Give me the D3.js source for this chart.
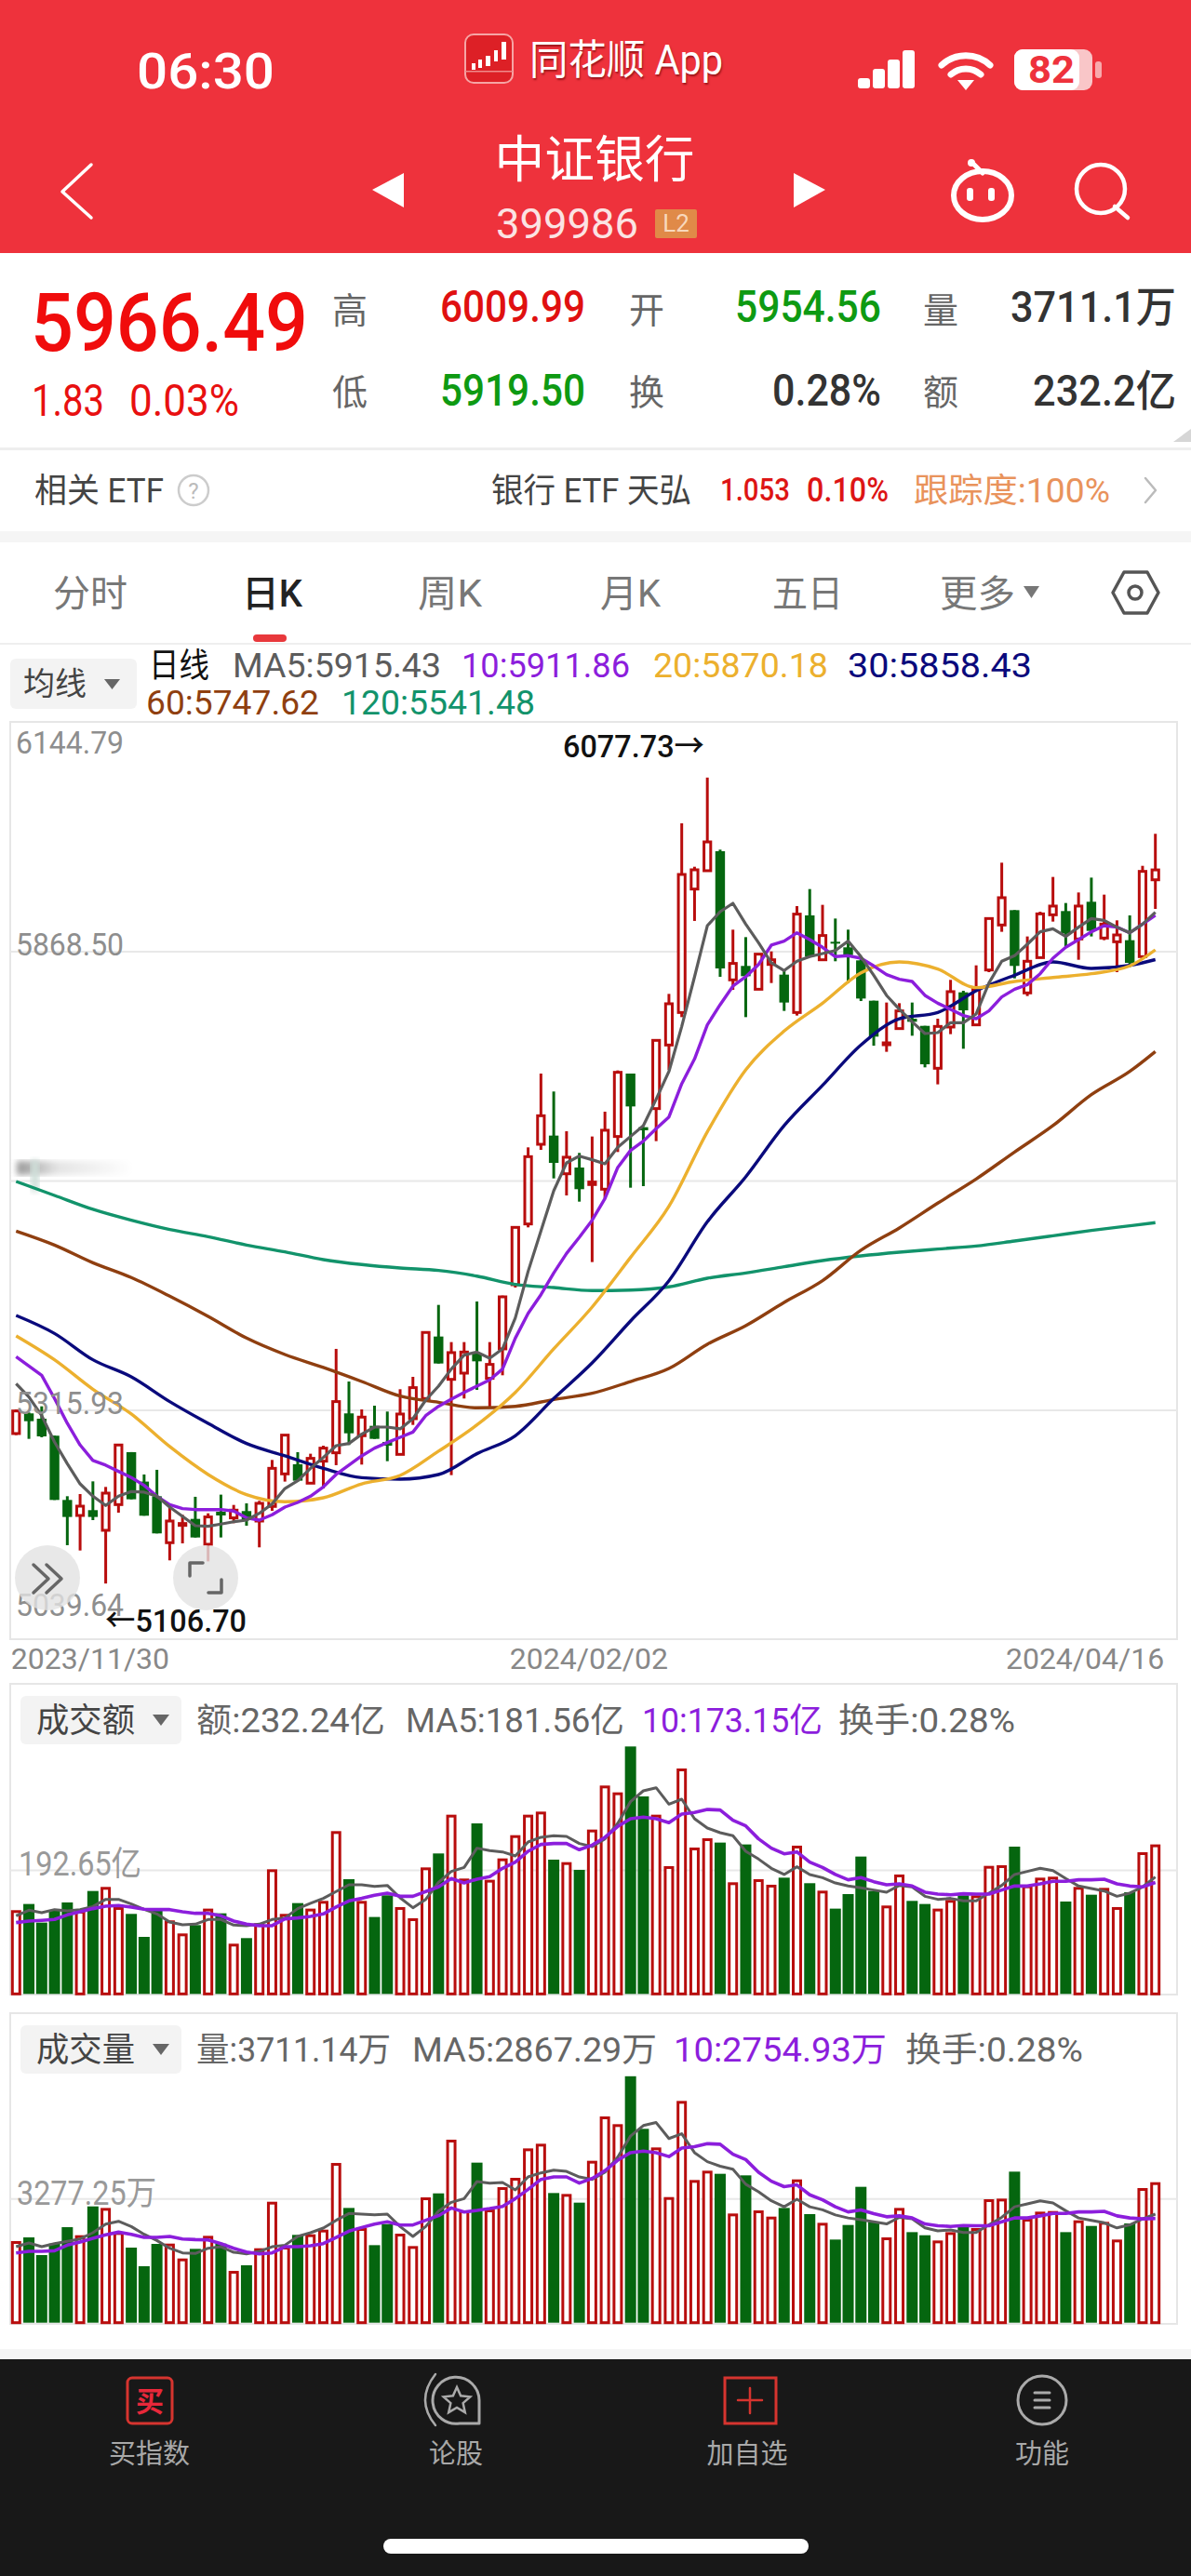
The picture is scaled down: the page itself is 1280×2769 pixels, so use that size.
<!DOCTYPE html>
<html>
<head>
<meta charset="utf-8">
<title>中证银行</title>
<script src="https://cdn.jsdelivr.net/npm/d3@7"></script>
<style>
  html, body { margin: 0; padding: 0; background: #fff; }
  text { font-family: Roboto, "Noto Sans CJK SC", sans-serif; }
</style>
</head>
<body>
<div id="viz"></div>
<script>
// daily candles (index points)
const openPrice = [5287.4,5311.7,5305.3,5284.8,5207.4,5188.7,5195.1,5170.8,5201.8,5265.0,5229.5,5211.9,5155.9,5176.8,5184.6,5154.0,5193.2,5185.8,5194.0,5182.0,5199.6,5238.8,5250.4,5227.6,5254.1,5264.2,5311.7,5284.8,5296.7,5277.3,5262.3,5305.3,5329.6,5404.3,5352.7,5360.2,5383.8,5353.9,5389.4,5466.7,5539.9,5635.9,5646.4,5600.4,5607.9,5587.4,5581.8,5645.3,5721.1,5656.5,5678.9,5755.5,5794.7,5943.4,5965.5,5989.0,5834.0,5850.8,5822.7,5852.6,5840.3,5794.7,5911.7,5858.2,5879.9,5873.2,5857.5,5808.9,5756.2,5775.3,5787.2,5778.6,5727.5,5777.2,5819.0,5779.8,5845.9,5900.1,5918.0,5818.3,5860.8,5912.4,5916.9,5883.3,5928.1,5884.4,5879.9,5881.8,5862.0,5954.56];
const closePrice = [5314.6,5302.3,5284.0,5207.4,5186.9,5199.9,5186.9,5215.6,5273.6,5208.2,5188.4,5167.1,5182.0,5179.0,5162.2,5186.9,5188.7,5195.1,5183.9,5203.3,5245.5,5285.5,5230.6,5257.5,5269.8,5325.9,5287.7,5307.2,5281.0,5272.8,5310.9,5342.7,5409.2,5371.8,5384.9,5385.6,5374.4,5370.7,5452.1,5535.8,5621.0,5670.3,5613.5,5620.3,5581.8,5590.4,5652.8,5722.6,5681.5,5652.8,5761.1,5805.2,5961.0,5966.6,6000.2,5847.8,5853.8,5838.4,5865.0,5858.2,5806.7,5913.2,5862.0,5887.4,5877.7,5863.8,5811.5,5765.6,5758.1,5796.6,5783.5,5732.3,5777.9,5819.8,5797.3,5822.7,5907.9,5933.0,5850.8,5856.4,5913.5,5922.9,5890.0,5922.9,5893.0,5901.2,5888.1,5854.5,5964.7,5966.49];
const highPrice = [5316.5,5312.8,5320.2,5284.8,5211.9,5214.5,5229.8,5223.1,5273.6,5265.0,5238.1,5243.7,5197.7,5189.5,5211.2,5191.3,5213.8,5201.4,5203.3,5206.3,5255.6,5285.5,5265.0,5263.1,5272.8,5389.4,5350.1,5316.5,5321.0,5313.9,5340.8,5355.7,5409.2,5442.4,5397.6,5397.6,5446.5,5397.6,5453.6,5536.9,5632.2,5721.1,5699.5,5651.6,5625.5,5645.3,5675.2,5724.9,5721.1,5656.5,5761.1,5817.1,6022.6,5970.3,6077.73,5990.9,5894.5,5885.5,5865.7,5868.3,5845.2,5922.9,5943.4,5924.4,5907.9,5894.5,5862.0,5808.9,5806.7,5805.9,5806.7,5778.6,5787.2,5834.0,5820.9,5851.5,5907.9,5975.2,5918.0,5886.3,5916.1,5958.0,5926.6,5939.3,5957.2,5936.7,5905.7,5911.7,5971.4,6009.99];
const lowPrice = [5285.5,5281.0,5282.9,5207.4,5152.9,5146.5,5183.1,5106.7,5192.1,5208.2,5188.4,5167.1,5134.6,5155.1,5162.2,5133.4,5162.2,5179.4,5176.4,5150.3,5194.3,5229.5,5229.5,5226.8,5221.2,5249.3,5273.6,5250.0,5281.0,5254.1,5261.6,5297.8,5327.7,5371.8,5237.3,5329.6,5340.0,5319.1,5357.6,5463.3,5535.8,5629.2,5594.8,5574.3,5566.8,5494.0,5570.6,5626.6,5583.6,5585.5,5639.7,5725.6,5789.1,5905.0,5964.7,5837.7,5822.0,5789.1,5822.0,5830.2,5796.6,5791.0,5862.0,5858.2,5856.4,5830.2,5808.5,5754.7,5747.3,5774.2,5766.7,5728.6,5708.1,5768.6,5751.0,5778.6,5843.3,5891.9,5835.8,5814.5,5860.1,5904.2,5873.2,5858.2,5886.3,5881.8,5843.3,5849.6,5860.1,5919.50];

// fast moving averages, one value per candle
const ma5 = [5347.5,5331.5,5309.0,5277.3,5251.1,5226.8,5211.9,5200.7,5211.9,5217.5,5216.8,5211.9,5198.8,5187.6,5176.4,5175.7,5178.3,5181.2,5183.1,5191.3,5202.6,5221.2,5230.6,5245.5,5258.6,5272.8,5275.4,5286.6,5295.2,5295.2,5293.0,5305.3,5327.7,5344.5,5365.1,5381.9,5385.6,5378.1,5389.4,5426.7,5482.8,5531.3,5579.9,5613.5,5621.7,5617.3,5612.4,5632.2,5645.3,5658.4,5690.1,5723.7,5777.9,5837.7,5899.3,5916.1,5926.2,5901.2,5878.8,5854.5,5845.2,5856.4,5862.0,5865.7,5869.4,5880.7,5862.0,5839.6,5815.3,5798.5,5783.5,5769.3,5770.4,5782.4,5782.4,5792.9,5830.2,5856.4,5863.1,5876.9,5891.9,5895.6,5886.3,5897.5,5907.9,5905.7,5897.5,5890.7,5901.2,5915.43];
const ma10 = [5380.0,5368.8,5357.6,5329.6,5299.7,5273.6,5254.9,5249.3,5241.8,5234.3,5225.0,5211.9,5201.8,5197.0,5195.8,5195.8,5195.8,5194.0,5185.8,5183.1,5189.5,5198.8,5204.4,5211.9,5223.1,5238.1,5249.3,5260.5,5269.8,5276.5,5282.9,5289.2,5309.0,5320.2,5328.8,5337.0,5344.5,5352.0,5365.1,5402.4,5432.3,5454.7,5480.9,5504.4,5523.9,5544.4,5570.6,5608.0,5628.5,5639.7,5654.6,5668.8,5708.8,5738.7,5779.8,5804.1,5826.5,5837.7,5852.6,5875.8,5880.7,5890.7,5882.5,5873.2,5862.0,5863.1,5860.1,5850.8,5840.3,5834.7,5832.1,5815.3,5805.9,5798.5,5791.0,5787.2,5796.6,5813.4,5822.7,5828.3,5841.4,5860.1,5873.2,5882.5,5891.9,5899.3,5897.5,5890.7,5901.2,5911.86];

// slow moving averages, read every third candle
const slowIdx = [0,3,6,9,12,15,18,21,24,27,30,33,36,39,42,45,48,51,54,57,60,63,66,69,72,75,78,81,84,87,89];
const ma20 = [5405.1,5376.3,5340.8,5310.9,5271.7,5238.1,5213.8,5205.2,5210.0,5226.8,5236.9,5266.1,5297.8,5337.0,5389.4,5439.8,5499.6,5561.2,5650.9,5725.6,5772.3,5805.9,5842.5,5855.6,5847.0,5824.6,5832.1,5836.9,5841.4,5850.8,5870.18];
const ma30 = [5429.7,5408.0,5376.3,5355.7,5325.9,5299.7,5275.4,5260.5,5245.5,5234.3,5232.5,5238.0,5263.1,5284.8,5329.6,5372.5,5423.0,5471.5,5542.5,5596.7,5658.4,5706.9,5755.5,5787.2,5794.7,5820.9,5839.6,5855.6,5847.8,5851.5,5858.43];
const ma60 = [5531.3,5514.5,5493.2,5475.3,5452.9,5428.6,5402.4,5382.6,5367.0,5350.1,5332.5,5325.1,5318.4,5320.2,5328.4,5335.9,5350.1,5365.8,5395.0,5417.4,5445.4,5471.6,5508.2,5535.1,5565.0,5594.1,5626.6,5658.4,5695.7,5723.7,5747.62];
const ma120 = [5591.1,5574.3,5557.5,5544.4,5533.2,5524.6,5514.5,5506.3,5497.0,5491.0,5486.8,5483.9,5477.1,5467.1,5463.3,5459.6,5460.3,5464.1,5474.5,5480.9,5488.4,5495.8,5501.4,5505.9,5509.7,5513.4,5519.4,5525.7,5532.1,5537.7,5541.48];

// turnover in 亿
const amount = [130.1,139.7,110.8,129.1,142.1,129.1,159.9,166.2,134.9,124.3,88.6,131.0,114.2,93.9,106.9,132.5,125.2,78.0,86.7,109.8,193.6,124.3,141.1,132.5,144.5,252.9,178.2,144.5,119.5,153.2,134.9,117.5,196.5,218.2,278.4,179.2,264.9,177.3,210.5,246.6,278.4,283.2,208.6,204.7,192.7,255.3,323.7,313.1,384.4,306.8,278.4,198.5,350.2,227.4,241.8,235.1,173.4,232.2,178.2,169.6,180.6,230.3,172.0,160.4,132.5,155.1,213.4,159.9,137.3,185.5,144.5,139.7,132.5,146.0,153.2,153.2,198.9,199.9,228.8,168.6,180.6,182.1,143.5,166.2,154.1,164.7,134.9,158.0,220.1,232.24];
const amountMa5 = [121.4,130.1,126.2,131.0,129.1,131.0,135.8,146.9,146.9,139.7,131.5,124.3,111.8,107.4,108.4,115.6,115.6,106.9,106.0,108.4,115.6,118.0,132.5,140.7,148.4,159.0,169.6,169.6,167.1,168.6,149.3,133.9,146.9,173.4,190.3,196.5,226.4,222.5,220.6,214.4,236.0,243.3,245.7,244.7,233.6,228.8,240.9,264.9,298.7,315.5,320.3,294.8,302.5,272.2,257.7,250.5,245.7,221.6,209.5,195.1,185.5,197.5,185.5,180.6,172.4,167.6,164.7,161.4,158.0,168.6,166.2,151.7,146.9,148.4,144.5,144.5,156.6,168.6,185.5,190.3,195.1,191.7,179.2,167.6,163.8,159.9,151.7,156.6,166.2,181.56];
const amountMa10 = [110.8,113.2,114.2,115.6,122.8,127.7,132.5,136.3,137.3,134.9,131.5,131.0,131.0,127.7,125.2,125.2,121.4,113.2,108.4,106.0,106.0,116.6,118.0,120.4,124.3,134.9,144.5,148.4,153.2,156.6,151.7,151.7,159.0,166.2,179.2,172.4,178.2,182.1,195.1,204.7,221.6,232.2,233.6,233.6,224.0,231.2,243.3,260.1,272.2,274.6,272.2,265.9,279.4,281.8,286.6,285.7,269.8,261.1,240.9,226.4,217.7,220.6,204.7,196.5,185.5,177.3,180.6,174.4,169.6,171.0,167.6,158.0,155.1,154.1,155.6,155.1,155.1,161.4,167.6,167.6,171.0,174.9,174.9,177.3,177.3,178.2,171.0,167.6,166.2,173.15];

// volume in 万
const volume = [2155,2253,1786,2089,2523,2310,3072,3031,2392,1983,1491,2081,2089,1696,1950,2294,2089,1368,1516,1966,3195,2007,2319,2335,2458,4219,3031,2499,2048,2605,2351,2024,3310,3416,4834,2966,4228,2990,3580,3826,4604,4727,3425,3400,3171,4277,5448,5244,6510,5121,4629,3318,5858,3769,4015,3933,2884,3892,2966,2802,3031,3785,2868,2638,2196,2581,3589,2663,2253,3031,2392,2310,2171,2392,2556,2499,3261,3277,3990,2745,2933,2949,2392,2704,2556,2663,2196,2622,3556,3711.14];
const volumeMa5 = [2007,2106,2007,2089,2147,2212,2376,2605,2679,2540,2335,2171,1966,1843,1827,1966,2007,1860,1819,1884,2007,2048,2278,2376,2499,2704,2884,2868,2851,2868,2540,2278,2540,2949,3179,3277,3728,3687,3703,3507,3851,3957,4031,3998,3851,3785,3975,4373,4929,5207,5287,4865,4993,4492,4253,4134,4055,3657,3458,3220,3061,3260,3061,2981,2846,2767,2719,2663,2608,2783,2743,2504,2425,2449,2385,2385,2584,2783,3061,3140,3220,3164,2957,2767,2703,2639,2504,2584,2743,2867.29];
const volumeMa10 = [1843,1884,1884,1901,2048,2130,2228,2319,2392,2335,2253,2253,2278,2212,2196,2188,2089,1966,1868,1819,1843,2007,2007,2032,2089,2253,2417,2515,2605,2663,2581,2581,2704,2827,3031,2925,2966,3015,3072,3277,3523,3785,3851,3851,3687,3810,4015,4293,4492,4532,4492,4388,4611,4651,4730,4714,4452,4309,3975,3737,3593,3641,3379,3244,3061,2926,2981,2878,2798,2822,2767,2608,2560,2544,2568,2560,2560,2663,2767,2767,2822,2886,2886,2926,2926,2942,2822,2767,2743,2754.93];

// axis ticks
const priceTicks = [6144.79, 5868.50, 5592.21, 5315.93, 5039.64];
const dateIdx = [0, 45, 89];
const dateLabels = ["2023/11/30", "2024/02/02", "2024/04/16"];

const RED = "#b80d0d", GREEN = "#05660f", HEADER = "#ee323c";
const cGray = "#5c5c5c", cPurple = "#8c1edc", cYellow = "#ecb02e", cNavy = "#0a0a7c", cBrown = "#8f3f10", cTeal = "#12936b";

const svg = d3.select("#viz").append("svg")
  .attr("width", 1280).attr("height", 2769)
  .style("display", "block");

function label(x, y, str, o) {
  o = o || {};
  const t = svg.append("text")
    .attr("x", x).attr("y", y).attr("dy", "0.36em")
    .attr("font-size", o.size || 36)
    .attr("font-weight", o.weight || 400)
    .attr("fill", o.fill || "#333")
    .attr("text-anchor", o.anchor || "start")
    .text(str);
  if (o.w) t.attr("textLength", o.w).attr("lengthAdjust", "spacingAndGlyphs");
  if (o.shadow) t.style("text-shadow", "1px 2px 2px rgba(90,0,0,.55)");
  return t;
}
function box(x, y, w, h, fill, rx) {
  return svg.append("rect").attr("x", x).attr("y", y).attr("width", w).attr("height", h)
    .attr("fill", fill).attr("rx", rx || 0);
}
function tri(points, fill) {
  return svg.append("polygon").attr("points", points).attr("fill", fill);
}
function stroke(d, color, width) {
  return svg.append("path").attr("d", d).attr("fill", "none").attr("stroke", color)
    .attr("stroke-width", width).attr("stroke-linecap", "round").attr("stroke-linejoin", "round");
}

// ---- app header ----
box(0, 0, 1280, 272, HEADER);
label(147, 76, "06:30", {size: 54, fill: "#fff", weight: 500, w: 148});
box(500, 37, 51, 52, "#dd2026", 9).attr("stroke", "#f6a5a5").attr("stroke-width", 2);
// little candles inside the app badge
[[507, 68, 4, 7], [514, 64, 4, 9], [522, 60, 5, 11], [531, 54, 4, 12], [539, 45, 5, 19]].forEach(c => {
  box(c[0], c[1], c[2], c[3], "#fff");
});
box(500, 76, 51, 1.5, "#f08a8a");
label(569, 64, "同花顺 App", {size: 44, fill: "#fff", w: 208, shadow: true});
[[922, 80], [938, 70], [954, 60], [970, 50]].forEach(p => box(p[0], p[1] + 4, 13, 91 - p[1], "#fff", 3));
stroke("M1012 70A38 38 0 0 1 1064 70", "#fff", 7);
stroke("M1022 80A24 24 0 0 1 1054 80", "#fff", 7);
tri("1029,86 1047,86 1038,97", "#fff");
box(1090, 53, 84, 44, "#f9c6c8", 9);
box(1090, 53, 70, 44, "#fff", 9);
box(1177, 66, 7, 18, "#f8a9ac", 3);
label(1130, 75, "82", {size: 40, fill: HEADER, weight: 700, anchor: "middle", w: 50});

stroke("M98 177L67 206L98 234", "#fff", 3.5);
tri("434,186 434,223 400,204", "#fff");
tri("853,186 853,223 887,204", "#fff");
label(639, 172, "中证银行", {size: 54, fill: "#fff", anchor: "middle", w: 215});
label(533, 240, "399986", {size: 44, fill: "#fbe3e3", w: 153});
box(704, 225, 45, 31, "#e08a48", 2);
label(726.5, 240, "L2", {size: 26, fill: "#f8d8bc", anchor: "middle"});
// robot + search icons
svg.append("ellipse").attr("cx", 1056).attr("cy", 210).attr("rx", 31).attr("ry", 26).attr("fill", "none").attr("stroke", "#fff").attr("stroke-width", 6);
stroke("M1046 176L1056 186", "#fff", 5);
svg.append("circle").attr("cx", 1044).attr("cy", 175).attr("r", 4).attr("fill", "#fff");
box(1039, 202, 7, 14, "#fff", 3);
box(1062, 202, 7, 14, "#fff", 3);
svg.append("circle").attr("cx", 1183).attr("cy", 203).attr("r", 26).attr("fill", "none").attr("stroke", "#fff").attr("stroke-width", 4.5);
stroke("M1198 222L1212 234", "#fff", 4.5);

// ---- quote panel ----
label(33, 345, "5966.49", {size: 88, fill: "#f00c0c", weight: 500, w: 298});
label(34, 430, "1.83", {size: 48, fill: "#e81010", w: 78});
label(139, 430, "0.03%", {size: 48, fill: "#e81010", w: 118});
const qLabels = [["高", 357, 333], ["低", 357, 421], ["开", 676, 333], ["换", 676, 421], ["量", 992, 333], ["额", 992, 421]];
qLabels.forEach(q => label(q[1], q[2], q[0], {size: 38, fill: "#666"}));
label(473, 329, "6009.99", {size: 48, fill: "#e01010", weight: 500, w: 156});
label(473, 419, "5919.50", {size: 48, fill: "#0e9a12", weight: 500, w: 156});
label(790, 329, "5954.56", {size: 48, fill: "#0e9a12", weight: 500, w: 157});
label(830, 419, "0.28%", {size: 48, fill: "#333", weight: 500, w: 117});
label(1086, 329, "3711.1万", {size: 46, fill: "#333", weight: 500, w: 178});
label(1110, 419, "232.2亿", {size: 46, fill: "#333", weight: 500, w: 154});
tri("1280,461 1280,475 1261,475", "#d6d6d6");
box(0, 481, 1280, 3, "#eeeeee");

// ---- ETF row ----
label(37, 527, "相关 ETF", {size: 36, fill: "#444", w: 139});
svg.append("circle").attr("cx", 208).attr("cy", 527).attr("r", 16).attr("fill", "none").attr("stroke", "#ccc").attr("stroke-width", 2.5);
label(208, 527, "?", {size: 24, fill: "#bbb", anchor: "middle"});
label(528, 527, "银行 ETF 天弘", {size: 36, fill: "#444", w: 215});
label(774, 526, "1.053", {size: 34, fill: "#dd1515", weight: 500, w: 75});
label(867, 526, "0.10%", {size: 36, fill: "#dd1515", weight: 500, w: 88});
label(982, 527, "跟踪度:100%", {size: 36, fill: "#e9935c", w: 211});
stroke("M1231 514L1242 527L1231 540", "#bbb", 2.5);
box(0, 571, 1280, 12, "#f5f5f5");

// ---- period tabs ----
const tabNames = ["分时", "周K", "月K", "五日", "更多"];
const tabX = [57, 449, 645, 830, 1010];
const tabW = [80, 69, 65, 76, 81];
tabNames.forEach((t, i) => label(tabX[i], 638, t, {size: 40, fill: "#777", w: tabW[i]}));
label(260, 638, "日K", {size: 40, fill: "#222", weight: 500, w: 65});
tri("1100,630 1117,630 1108.5,643", "#777");
svg.append("polygon").attr("points", "1196,637 1208,615 1233,615 1245,637 1233,659 1208,659")
  .attr("fill", "none").attr("stroke", "#555").attr("stroke-width", 3.5).attr("stroke-linejoin", "round");
svg.append("circle").attr("cx", 1220).attr("cy", 637).attr("r", 7).attr("fill", "none").attr("stroke", "#555").attr("stroke-width", 3.5);
box(272, 682, 36, 8, "#e8383c", 4);
box(0, 691, 1280, 2, "#eeeeee");

// ---- MA legend ----
box(11, 708, 136, 54, "#f3f3f3", 6);
label(25, 735, "均线", {size: 34, fill: "#444", w: 68});
tri("112,730 129,730 120.5,741", "#666");
label(160, 715, "日线", {size: 36, fill: "#111", w: 65});
const legendMa = [
  ["MA5:5915.43", 250, 715, 224, cGray],
  ["10:5911.86", 496, 715, 181, cPurple],
  ["20:5870.18", 702, 715, 188, cYellow],
  ["30:5858.43", 911, 715, 198, cNavy],
  ["60:5747.62", 157, 755, 186, cBrown],
  ["120:5541.48", 367, 755, 208, cTeal]
];
legendMa.forEach(d => label(d[1], d[2], d[0], {size: 36, fill: d[4], w: d[3]}));

// ---- price chart ----
const frameL = 11, frameR = 1265;
const x = d3.scaleLinear().domain([0, 89]).range([17.3, 1241.7]);
const priceY = d3.scaleLinear().domain([5039.64, 6144.79]).range([1762, 776]);

svg.append("rect").attr("x", frameL).attr("y", 776).attr("width", frameR - frameL).attr("height", 986)
  .attr("fill", "none").attr("stroke", "#e6e6e6").attr("stroke-width", 2);

const priceAxis = svg.append("g").attr("transform", "translate(" + frameL + ",0)")
  .call(d3.axisRight(priceY).tickValues(priceTicks.slice(1, 4)).tickSize(frameR - frameL).tickFormat(""));
priceAxis.select(".domain").remove();
priceAxis.selectAll("line").attr("stroke", "#e8e8e8").attr("stroke-width", 2);

// the middle price label is smudged out in the picture
const defs = svg.append("defs");
defs.append("filter").attr("id", "smudge").append("feGaussianBlur").attr("stdDeviation", 3);
const fade = defs.append("linearGradient").attr("id", "fade");
fade.append("stop").attr("offset", 0).attr("stop-color", "#999");
fade.append("stop").attr("offset", 0.35).attr("stop-color", "#e4e4e4");
fade.append("stop").attr("offset", 1).attr("stop-color", "#fff");
box(18, 1248, 125, 15, "url(#fade)").attr("filter", "url(#smudge)");
box(33, 1247, 9, 34, "#cfdfd9").attr("filter", "url(#smudge)");

const candleIdx = d3.range(openPrice.length);
const candleUp = i => closePrice[i] >= openPrice[i];
const candleColor = i => candleUp(i) ? RED : GREEN;

svg.append("g").selectAll("line").data(candleIdx).join("line")
  .attr("x1", i => x(i)).attr("x2", i => x(i))
  .attr("y1", i => priceY(highPrice[i])).attr("y2", i => priceY(lowPrice[i]))
  .attr("stroke", candleColor).attr("stroke-width", 3);

svg.append("g").selectAll("rect").data(candleIdx).join("rect")
  .attr("x", i => x(i) - (candleUp(i) ? 3.6 : 5.2))
  .attr("width", i => candleUp(i) ? 7.2 : 10.4)
  .attr("y", i => priceY(Math.max(openPrice[i], closePrice[i])))
  .attr("height", i => Math.max(Math.abs(priceY(openPrice[i]) - priceY(closePrice[i])), 2))
  .attr("fill", i => candleUp(i) ? "#fff" : GREEN)
  .attr("stroke", i => candleUp(i) ? RED : "none").attr("stroke-width", 3);

function drawLine(idx, values, yScale, color, width, curve) {
  svg.append("path").datum(values)
    .attr("fill", "none").attr("stroke", color).attr("stroke-width", width)
    .attr("stroke-linejoin", "round")
    .attr("d", d3.line().x((d, i) => x(idx[i])).y(d => yScale(d)).curve(curve || d3.curveLinear));
}
drawLine(slowIdx, ma120, priceY, cTeal, 3.4, d3.curveMonotoneX);
drawLine(slowIdx, ma60, priceY, cBrown, 3.4, d3.curveMonotoneX);
drawLine(slowIdx, ma30, priceY, cNavy, 3.4, d3.curveMonotoneX);
drawLine(slowIdx, ma20, priceY, cYellow, 3.4, d3.curveMonotoneX);
drawLine(candleIdx, ma10, priceY, cPurple, 3.4);
drawLine(candleIdx, ma5, priceY, cGray, 3.2);

// price labels sit inside the frame
const priceLabelY = [798, 1015, 1508, 1725];
[6144.79, 5868.50, 5315.93, 5039.64].forEach((v, i) => {
  label(17, priceLabelY[i], v.toFixed(2), {size: 34, fill: "#8e8e8e", w: 116});
});

// round buttons over the chart
svg.append("circle").attr("cx", 51).attr("cy", 1696).attr("r", 35).attr("fill", "#e2e2e2").attr("opacity", 0.8);
svg.append("circle").attr("cx", 221).attr("cy", 1696).attr("r", 35).attr("fill", "#e2e2e2").attr("opacity", 0.8);
stroke("M36 1682L52 1697L36 1712M50 1682L66 1697L50 1712", "#666", 3.5);
stroke("M204 1694V1680H218M238 1698V1712H224", "#666", 3.5);

label(605, 802, "6077.73→", {size: 34, fill: "#111", weight: 500, w: 152});
label(113, 1742, "←5106.70", {size: 34, fill: "#111", weight: 500, w: 152});

const dateAxis = svg.append("g").attr("transform", "translate(0,1762)")
  .call(d3.axisBottom(x).tickValues(dateIdx).tickSize(0).tickFormat((d, i) => dateLabels[i]));
dateAxis.select(".domain").remove();
dateAxis.selectAll("text").attr("font-size", 32).attr("fill", "#888").attr("y", 20).attr("dy", "0.36em")
  .style("font-family", "Roboto, sans-serif")
  .attr("text-anchor", (d, i) => ["start", "middle", "end"][i])
  .attr("dx", (d, i) => [-6, -4, 9][i]);

// ---- amount + volume panels ----
function drawPanel(p) {
  const y = d3.scaleLinear().domain([0, p.max]).range([p.base, p.topY]);
  svg.append("rect").attr("x", frameL).attr("y", p.frameTop).attr("width", frameR - frameL).attr("height", p.frameBottom - p.frameTop)
    .attr("fill", "none").attr("stroke", "#e6e6e6").attr("stroke-width", 2);
  const ax = svg.append("g").attr("transform", "translate(" + frameL + ",0)")
    .call(d3.axisRight(y).tickValues([p.tick]).tickSize(frameR - frameL).tickFormat(""));
  ax.select(".domain").remove();
  ax.selectAll("line").attr("stroke", "#e8e8e8").attr("stroke-width", 2);

  svg.append("g").selectAll("rect").data(candleIdx).join("rect")
    .attr("x", i => x(i) - (candleUp(i) ? 4 : 6))
    .attr("width", i => candleUp(i) ? 8 : 12)
    .attr("y", i => candleUp(i) ? y(p.values[i]) + 1.5 : y(p.values[i]))
    .attr("height", i => candleUp(i) ? p.base - y(p.values[i]) - 1.5 : p.base - y(p.values[i]))
    .attr("fill", i => candleUp(i) ? "#fff" : GREEN)
    .attr("stroke", i => candleUp(i) ? RED : "none")
    .attr("stroke-width", 3);

  drawLine(candleIdx, p.ma5, y, cGray, 3);
  drawLine(candleIdx, p.ma10, y, cPurple, 3.6);

  label(p.tickX, p.tickY, p.tickText, {size: 36, fill: "#999", w: p.tickW});
  box(22, p.frameTop + 13, 173, 52, "#f3f3f3", 6);
  label(39, p.frameTop + 39, p.name, {size: 36, fill: "#444", w: 106});
  tri("164," + (p.frameTop + 33) + " 182," + (p.frameTop + 33) + " 173," + (p.frameTop + 45), "#666");
  p.legend.forEach(d => label(d[1], p.frameTop + 39, d[0], {size: 36, fill: d[3], w: d[2]}));
}

drawPanel({
  values: amount, ma5: amountMa5, ma10: amountMa10,
  max: 385.3, tick: 192.65, base: 2143.3, topY: 1876.7,
  frameTop: 1810, frameBottom: 2144, name: "成交额",
  tickX: 20, tickY: 2003, tickW: 132, tickText: "192.65亿",
  legend: [
    ["额:232.24亿", 211, 203, "#666"],
    ["MA5:181.56亿", 436, 235, "#666"],
    ["10:173.15亿", 690, 194, cPurple],
    ["换手:0.28%", 901, 190, "#666"]
  ]
});
drawPanel({
  values: volume, ma5: volumeMa5, ma10: volumeMa10,
  max: 6554.5, tick: 3277.25, base: 2496.7, topY: 2230,
  frameTop: 2164, frameBottom: 2498, name: "成交量",
  tickX: 18, tickY: 2357, tickW: 150, tickText: "3277.25万",
  legend: [
    ["量:3711.14万", 211, 209, "#666"],
    ["MA5:2867.29万", 443, 263, "#666"],
    ["10:2754.93万", 724, 229, cPurple],
    ["换手:0.28%", 973, 191, "#666"]
  ]
});

// ---- bottom bar ----
box(0, 2525, 1280, 11, "#f5f5f5");
box(0, 2536, 1280, 233, "#181818");
const navNames = ["买指数", "论股", "加自选", "功能"];
const navX = [160.5, 490, 803, 1120];
navNames.forEach((n, i) => label(navX[i], 2638, n, {size: 29, fill: "#a8a8a8", anchor: "middle"}));
svg.append("rect").attr("x", 137).attr("y", 2556).attr("width", 48).attr("height", 49).attr("rx", 5)
  .attr("fill", "none").attr("stroke", "#d6342f").attr("stroke-width", 3);
label(161, 2581, "买", {size: 30, fill: "#e8283a", weight: 700, anchor: "middle"});
stroke("M468 2552Q446 2580 468 2607", "#aaa", 2.5);
stroke("M515 2605H494A25 25 0 1 1 515 2580Z", "#aaa", 3);
svg.append("polygon").attr("fill", "none").attr("stroke", "#aaa").attr("stroke-width", 2.5)
  .attr("points", d3.range(10).map(i => {
    const r = i % 2 ? 7 : 15, a = -Math.PI / 2 + i * Math.PI / 5;
    return [491 + r * Math.cos(a), 2581 + r * Math.sin(a)].join(",");
  }).join(" "));
svg.append("rect").attr("x", 779).attr("y", 2556).attr("width", 55).attr("height", 49)
  .attr("fill", "none").attr("stroke", "#d6342f").attr("stroke-width", 3);
stroke("M806 2567V2594M793 2580H819", "#d6342f", 2.5);
svg.append("ellipse").attr("cx", 1120).attr("cy", 2580).attr("rx", 26).attr("ry", 26)
  .attr("fill", "none").attr("stroke", "#aaa").attr("stroke-width", 3);
stroke("M1112 2572H1128M1112 2580H1128M1112 2588H1128", "#aaa", 3);
box(412, 2729, 457, 16, "#fff", 8);
</script>
</body>
</html>
